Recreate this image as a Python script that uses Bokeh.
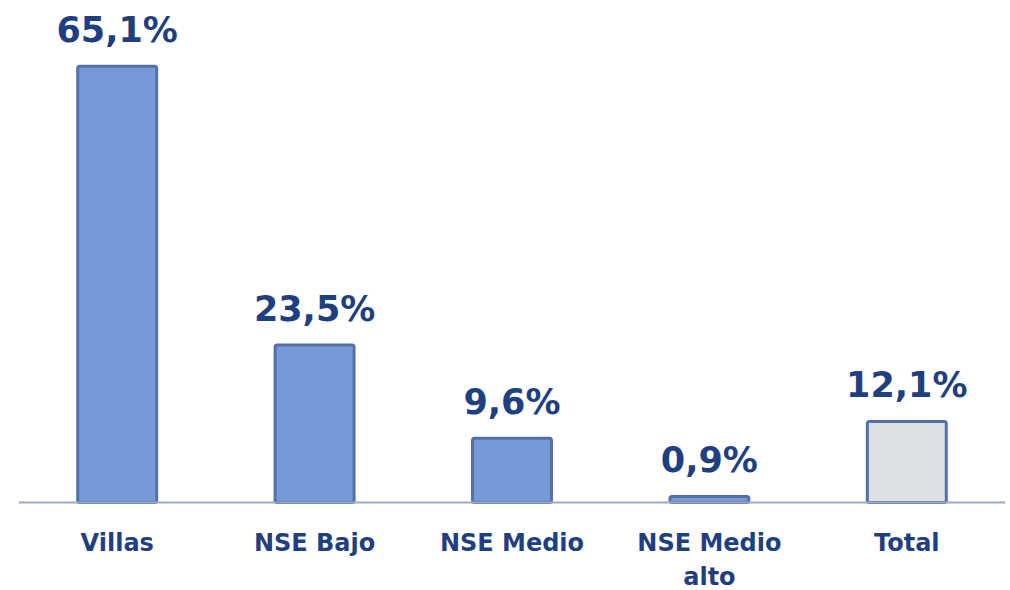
from bokeh.plotting import figure
from bokeh.models import ColumnDataSource, Range1d, FactorRange, Span
from bokeh.embed import file_html
from bokeh.resources import INLINE
from bokeh.core.properties import value

categories = ["Villas", "NSE Bajo", "NSE Medio", "NSE Medio alto", "Total"]
axis_labels = ["Villas", "NSE Bajo", "NSE Medio", "NSE Medio\nalto", "Total"]
values = [65.1, 23.5, 9.6, 0.9, 12.1]
value_labels = ["65,1%", "23,5%", "9,6%", "0,9%", "12,1%"]
fills = ["#7699DA", "#7699DA", "#7699DA", "#7699DA", "#DCDFE4"]
zeros = [0, 0, 0, 0, 0]

line1 = [l.split("\n")[0] for l in axis_labels]
line2 = [l.split("\n")[1] if "\n" in l else "" for l in axis_labels]

src = ColumnDataSource(dict(cat=categories, val=values, lab=value_labels, fill=fills,
                            l1=line1, l2=line2, zero=zeros))

p = figure(width=1010, height=590, output_backend="svg", toolbar_location=None,
           x_range=FactorRange(*categories, range_padding=0), y_range=Range1d(-13.13, 74.93),
           min_border_left=18, min_border_right=5, min_border_top=0, min_border_bottom=0,
           x_axis_location=None, y_axis_location=None)
p.outline_line_color = None
p.xgrid.visible = False
p.ygrid.visible = False
p.background_fill_color = "white"
p.border_fill_color = "white"

p.add_layout(Span(location=0, dimension="width", line_color="#A0A8C0", line_width=2))

p.vbar(x="cat", top="val", bottom=0, width=0.40, source=src, fill_color="fill",
       line_color="#5470A8", line_width=3, border_radius=2)

p.text(x="cat", y="val", text="lab", source=src, text_align="center",
       text_baseline="alphabetic", y_offset=-36, text_color="#1F3F7F",
       text_font=value("DejaVu Sans"), text_font_style="bold", text_font_size="35px")

p.text(x="cat", y="zero", text="l1", source=src, text_align="center",
       text_baseline="alphabetic", y_offset=40, text_color="#1F3F7F",
       text_font=value("DejaVu Sans"), text_font_style="bold", text_font_size="24px")
p.text(x="cat", y="zero", text="l2", source=src, text_align="center",
       text_baseline="alphabetic", y_offset=74, text_color="#1F3F7F",
       text_font=value("DejaVu Sans"), text_font_style="bold", text_font_size="24px")

open("out.html", "w").write(file_html(p, INLINE))
